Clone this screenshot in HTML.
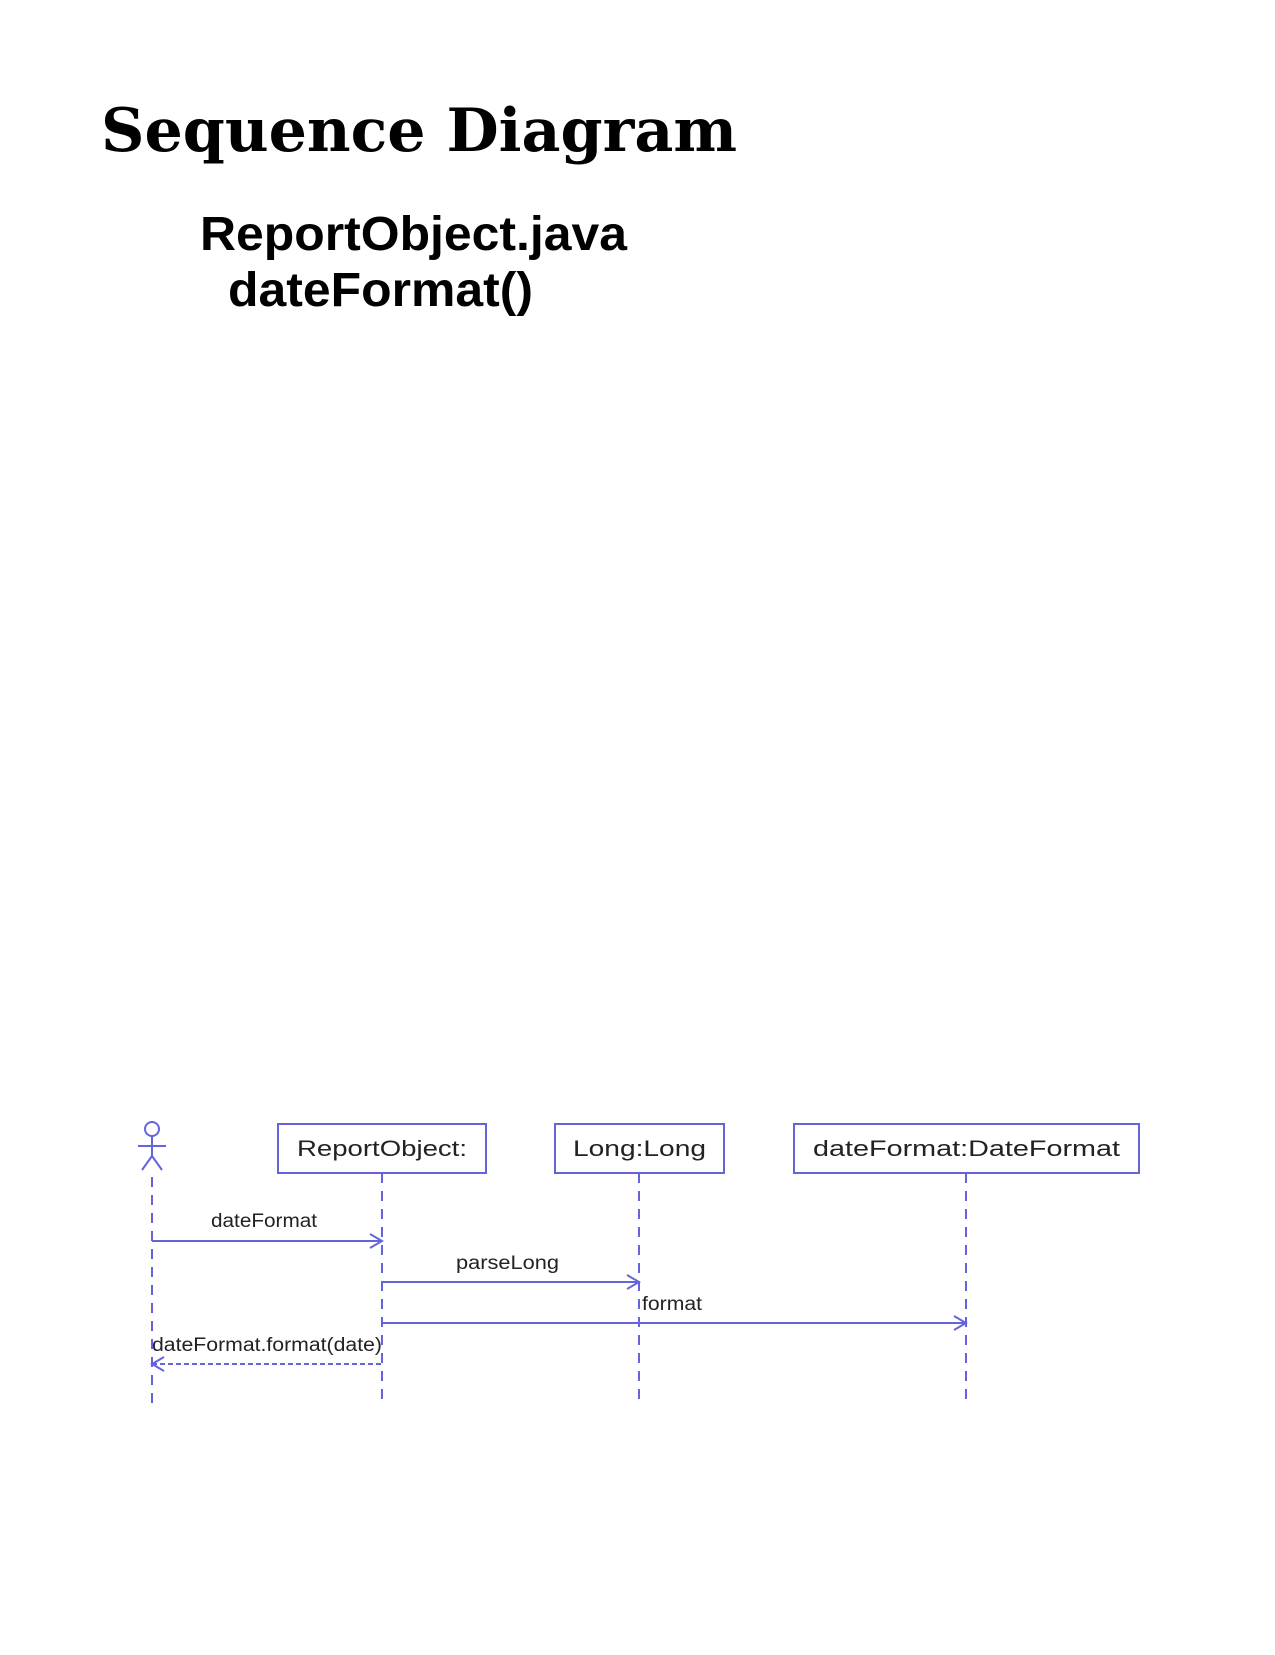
<!DOCTYPE html>
<html><head><meta charset="utf-8"><style>html,body{margin:0;padding:0;background:#fff}</style></head>
<body>
<svg width="1275" height="1650" viewBox="0 0 1275 1650" xmlns="http://www.w3.org/2000/svg">
<rect width="1275" height="1650" fill="#fff"/>
<text x="101" y="151" font-family="DejaVu Serif, Liberation Serif, serif" font-weight="bold" font-size="60" textLength="636" lengthAdjust="spacingAndGlyphs">Sequence Diagram</text>
<text x="200" y="250" font-family="Liberation Sans, sans-serif" font-weight="bold" font-size="48" textLength="427" lengthAdjust="spacingAndGlyphs">ReportObject.java</text>
<text x="228" y="306" font-family="Liberation Sans, sans-serif" font-weight="bold" font-size="48" textLength="305" lengthAdjust="spacingAndGlyphs">dateFormat()</text>
<g stroke="#6464dc" fill="none" stroke-width="2">
<circle cx="152" cy="1129" r="7"/>
<line x1="152" y1="1136" x2="152" y2="1156"/>
<line x1="138" y1="1146" x2="166" y2="1146"/>
<line x1="152" y1="1156" x2="142" y2="1170"/>
<line x1="152" y1="1156" x2="162" y2="1170"/>
<rect x="278" y="1124" width="208" height="49"/>
<rect x="555" y="1124" width="169" height="49"/>
<rect x="794" y="1124" width="345" height="49"/>
<g stroke-dasharray="10,8">
<line x1="152" y1="1177" x2="152" y2="1411"/>
<line x1="382" y1="1173" x2="382" y2="1403"/>
<line x1="639" y1="1173" x2="639" y2="1403"/>
<line x1="966" y1="1173" x2="966" y2="1403"/>
</g>
<line x1="152" y1="1241" x2="382" y2="1241"/>
<polyline points="370,1234 382,1241 370,1248"/>
<line x1="382" y1="1282" x2="639" y2="1282"/>
<polyline points="627,1275 639,1282 627,1289"/>
<line x1="382" y1="1323" x2="966" y2="1323"/>
<polyline points="954,1316 966,1323 954,1330"/>
<line x1="152" y1="1364" x2="382" y2="1364" stroke-dasharray="5,3"/>
<polyline points="164,1357 152,1364 164,1371"/>
</g>
<g font-family="Liberation Sans, sans-serif" fill="#222">
<text x="297" y="1156" font-size="22" textLength="170" lengthAdjust="spacingAndGlyphs">ReportObject:</text>
<text x="573" y="1156" font-size="22" textLength="133" lengthAdjust="spacingAndGlyphs">Long:Long</text>
<text x="813" y="1156" font-size="22" textLength="307" lengthAdjust="spacingAndGlyphs">dateFormat:DateFormat</text>
<text x="211" y="1227" font-size="19" textLength="106" lengthAdjust="spacingAndGlyphs">dateFormat</text>
<text x="456" y="1269" font-size="19" textLength="103" lengthAdjust="spacingAndGlyphs">parseLong</text>
<text x="642" y="1310" font-size="19" textLength="60" lengthAdjust="spacingAndGlyphs">format</text>
<text x="152" y="1351" font-size="19" textLength="230" lengthAdjust="spacingAndGlyphs">dateFormat.format(date)</text>
</g>
</svg>
</body></html>
